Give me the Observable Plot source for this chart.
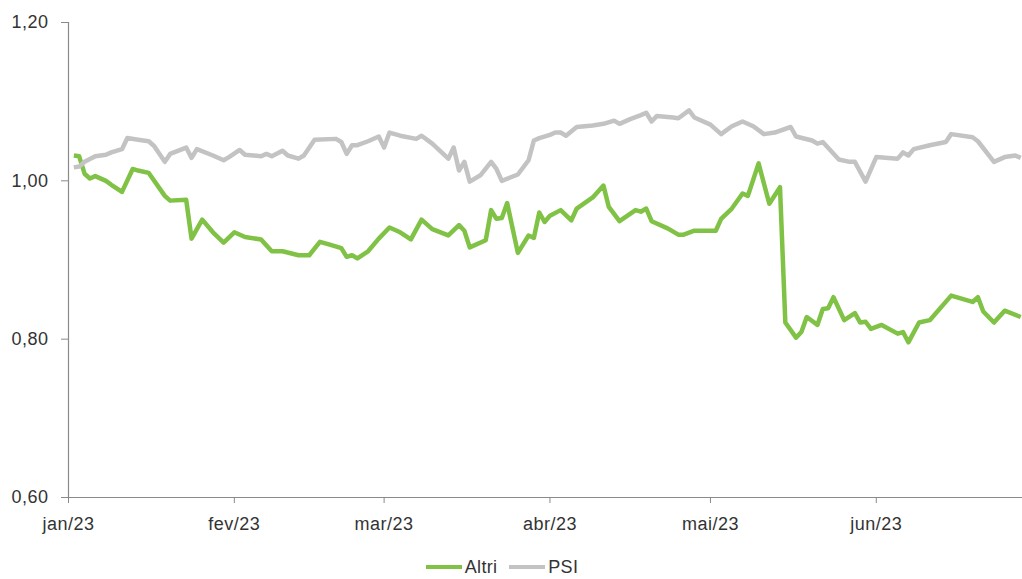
<!DOCTYPE html>
<html>
<head>
<meta charset="utf-8">
<script src="https://cdn.jsdelivr.net/npm/d3@7"></script>
<script src="https://cdn.jsdelivr.net/npm/@observablehq/plot@0.6"></script>
<style>
  body { margin: 0; background: #fff; }
  #chart { width: 1022px; }
  .legend { display: flex; justify-content: center; align-items: center; gap: 12px; height: 24px; padding-top: 15px; padding-right: 18px;
    font-family: "Liberation Sans", Arial, sans-serif; font-size: 18px; color: #333; letter-spacing: 0.3px; }
  .legend .item { display: flex; align-items: center; }
  .legend .sw { display: inline-block; width: 36px; height: 4px; margin-right: 3px; }
</style>
</head>
<body>
<div id="chart"></div>
<script>
const altriDates = ["2023-01-02","2023-01-03","2023-01-04","2023-01-05","2023-01-06","2023-01-08","2023-01-09","2023-01-11","2023-01-13","2023-01-14","2023-01-16","2023-01-19","2023-01-20","2023-01-23","2023-01-24","2023-01-26","2023-01-28","2023-01-30",
"2023-02-01","2023-02-03","2023-02-06","2023-02-08","2023-02-10","2023-02-13","2023-02-15","2023-02-17","2023-02-19","2023-02-21","2023-02-22","2023-02-23","2023-02-24","2023-02-26","2023-02-28",
"2023-03-02","2023-03-04","2023-03-06","2023-03-08","2023-03-10","2023-03-13","2023-03-15","2023-03-16","2023-03-17","2023-03-20","2023-03-21","2023-03-22","2023-03-23","2023-03-24","2023-03-26","2023-03-28","2023-03-29","2023-03-30","2023-03-31",
"2023-04-01","2023-04-03","2023-04-05","2023-04-06","2023-04-09","2023-04-11","2023-04-12","2023-04-14","2023-04-17","2023-04-18","2023-04-19","2023-04-20","2023-04-23","2023-04-25","2023-04-26","2023-04-28",
"2023-05-02","2023-05-03","2023-05-05","2023-05-07","2023-05-08","2023-05-10","2023-05-12","2023-05-14","2023-05-15","2023-05-17","2023-05-18","2023-05-19","2023-05-21","2023-05-22","2023-05-23","2023-05-24","2023-05-26","2023-05-28","2023-05-29","2023-05-30","2023-05-31",
"2023-06-02","2023-06-05","2023-06-06","2023-06-07","2023-06-09","2023-06-11","2023-06-15","2023-06-19","2023-06-20","2023-06-21","2023-06-23","2023-06-25","2023-06-28"];
const altriValues = [1.032,1.031,1.009,1.003,1.006,1.000,0.995,0.986,1.015,1.013,1.010,0.981,0.975,0.976,0.927,0.951,0.935,0.922,
0.935,0.929,0.926,0.911,0.911,0.906,0.906,0.923,0.919,0.915,0.904,0.906,0.902,0.911,0.927,
0.941,0.935,0.926,0.951,0.939,0.931,0.944,0.937,0.916,0.925,0.963,0.952,0.953,0.972,0.909,0.931,0.928,0.960,0.948,
0.956,0.963,0.950,0.965,0.979,0.994,0.967,0.949,0.963,0.961,0.965,0.949,0.940,0.932,0.932,0.937,
0.937,0.952,0.965,0.984,0.981,1.022,0.971,0.992,0.821,0.802,0.809,0.828,0.818,0.838,0.839,0.853,0.824,0.833,0.821,0.822,0.813,
0.818,0.807,0.809,0.796,0.821,0.824,0.855,0.847,0.853,0.835,0.821,0.836,0.828];

const psiDates = ["2023-01-02","2023-01-03","2023-01-04","2023-01-06","2023-01-08","2023-01-09","2023-01-11","2023-01-12","2023-01-14","2023-01-16","2023-01-17","2023-01-19","2023-01-20","2023-01-23","2023-01-24","2023-01-25","2023-01-28","2023-01-30","2023-01-31",
"2023-02-02","2023-02-03","2023-02-06","2023-02-07","2023-02-08","2023-02-10","2023-02-11","2023-02-13","2023-02-14","2023-02-16","2023-02-20","2023-02-21","2023-02-22","2023-02-23","2023-02-24","2023-02-26","2023-02-28",
"2023-03-01","2023-03-02","2023-03-04","2023-03-07","2023-03-08","2023-03-10","2023-03-13","2023-03-14","2023-03-15","2023-03-16","2023-03-17","2023-03-19","2023-03-21","2023-03-22","2023-03-23","2023-03-26","2023-03-28","2023-03-29","2023-03-30",
"2023-04-01","2023-04-02","2023-04-03","2023-04-04","2023-04-06","2023-04-09","2023-04-11","2023-04-13","2023-04-14","2023-04-16","2023-04-18","2023-04-19","2023-04-20","2023-04-21","2023-04-24","2023-04-25","2023-04-27","2023-04-28",
"2023-05-01","2023-05-03","2023-05-05","2023-05-07","2023-05-09","2023-05-11","2023-05-13","2023-05-16","2023-05-17","2023-05-20","2023-05-21","2023-05-22","2023-05-25","2023-05-27","2023-05-28","2023-05-30",
"2023-06-01","2023-06-05","2023-06-06","2023-06-07","2023-06-08","2023-06-11","2023-06-14","2023-06-15","2023-06-19","2023-06-20","2023-06-23","2023-06-25","2023-06-27","2023-06-28"];
const psiValues = [1.017,1.018,1.024,1.031,1.033,1.036,1.040,1.054,1.052,1.050,1.044,1.024,1.034,1.042,1.029,1.040,1.032,1.026,1.030,
1.039,1.033,1.031,1.034,1.031,1.038,1.032,1.028,1.032,1.052,1.053,1.049,1.034,1.045,1.045,1.050,1.056,
1.042,1.061,1.057,1.053,1.057,1.047,1.028,1.042,1.013,1.024,0.999,1.007,1.024,1.015,1.000,1.008,1.026,1.051,1.054,
1.058,1.061,1.061,1.057,1.068,1.070,1.072,1.076,1.072,1.078,1.083,1.086,1.075,1.082,1.080,1.079,1.089,1.080,
1.071,1.059,1.069,1.075,1.069,1.059,1.061,1.068,1.056,1.051,1.047,1.049,1.027,1.024,1.024,0.999,
1.030,1.028,1.036,1.032,1.040,1.045,1.049,1.059,1.055,1.050,1.024,1.030,1.032,1.029];

const seriesNames = ["Altri", "PSI"];
const seriesColors = ["#80c245", "#c3c3c3"];
const yTicks = [0.6, 0.8, 1.0, 1.2];
const monthTickDates = ["2023-01-01","2023-02-01","2023-03-01","2023-04-01","2023-05-01","2023-06-01"];
const monthTickLabels = ["jan/23","fev/23","mar/23","abr/23","mai/23","jun/23"];

const parse = d3.utcParse("%Y-%m-%d");
const altri = altriDates.map((d, i) => ({date: parse(d), value: altriValues[i]}));
const psi = psiDates.map((d, i) => ({date: parse(d), value: psiValues[i]}));
const tickDates = monthTickDates.map(parse);
const xStart = tickDates[0];
const xEnd = new Date(Date.UTC(2023, 5, 28, 8));

const chart = Plot.plot({
  width: 1022,
  height: 540,
  marginLeft: 68,
  marginRight: 0,
  marginTop: 22,
  marginBottom: 43,
  style: {fontFamily: "Liberation Sans, Arial, sans-serif", fontSize: "18px", color: "#333", background: "#fff", letterSpacing: "0.5px"},
  x: {type: "utc", domain: [xStart, xEnd]},
  y: {domain: [0.6, 1.2]},
  marks: [
    Plot.ruleY([0.6], {stroke: "#8a8a8a", strokeWidth: 1.2}),
    Plot.ruleX([xStart], {y1: 0.6, y2: 1.2, stroke: "#8a8a8a", strokeWidth: 1.2}),
    Plot.axisY({ticks: yTicks, tickFormat: d => d.toFixed(2).replace(".", ","), tickSize: 7, tickPadding: 13, stroke: "#8a8a8a", fill: "#333", label: null}),
    Plot.axisX({ticks: tickDates, tickFormat: (d) => monthTickLabels[tickDates.findIndex(t => +t === +d)], tickSize: 6, tickPadding: 14, stroke: "#8a8a8a", fill: "#333", label: null}),
    Plot.line(altri, {x: "date", y: "value", stroke: seriesColors[0], strokeWidth: 4.5, strokeLinejoin: "round", strokeLinecap: "butt"}),
    Plot.line(psi, {x: "date", y: "value", stroke: seriesColors[1], strokeWidth: 4.5, strokeLinejoin: "round", strokeLinecap: "butt"})
  ]
});
document.getElementById("chart").appendChild(chart);

const legend = document.createElement("div");
legend.className = "legend";
seriesNames.forEach((n, i) => {
  const item = document.createElement("span");
  item.className = "item";
  const sw = document.createElement("span");
  sw.className = "sw";
  sw.style.background = seriesColors[i];
  const t = document.createElement("span");
  t.textContent = n;
  item.appendChild(sw);
  item.appendChild(t);
  legend.appendChild(item);
});
document.getElementById("chart").appendChild(legend);
</script>
</body>
</html>
